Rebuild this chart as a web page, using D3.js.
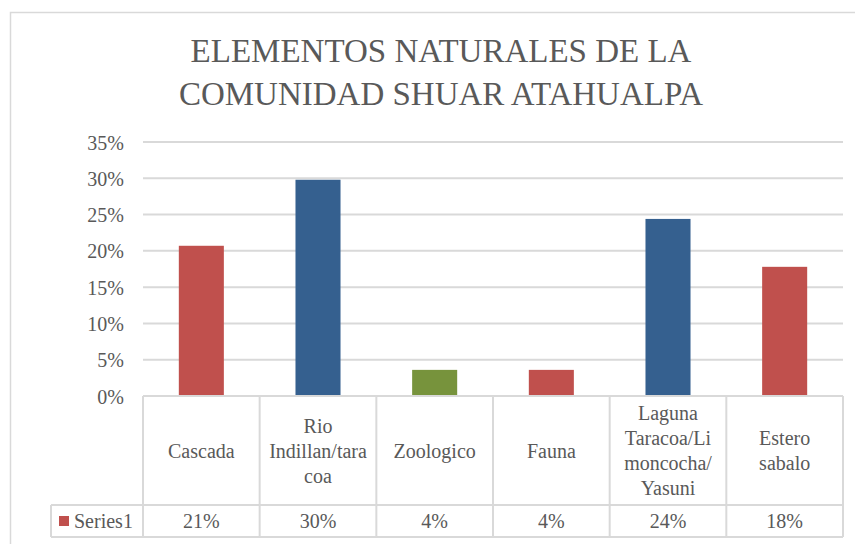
<!DOCTYPE html>
<html>
<head>
<meta charset="utf-8">
<script src="https://cdn.jsdelivr.net/npm/d3@7"></script>
<style>
  html, body { margin: 0; padding: 0; background: #fff; }
</style>
</head>
<body>
<div id="chart"></div>
<script>
"use strict";

// chart data
var titleLines = ["ELEMENTOS NATURALES DE LA", "COMUNIDAD SHUAR ATAHUALPA"];
var categories = ["Cascada", "Rio Indillan/taracoa", "Zoologico", "Fauna", "Laguna Taracoa/Limoncocha/Yasuni", "Estero sabalo"];
// how the labels wrap in the table cells
var categoryLines = [
	["Cascada"],
	["Rio", "Indillan/tara", "coa"],
	["Zoologico"],
	["Fauna"],
	["Laguna", "Taracoa/Li", "moncocha/", "Yasuni"],
	["Estero", "sabalo"]
];
var values = [0.207, 0.298, 0.036, 0.036, 0.244, 0.178];
var seriesName = "Series1";
var yTicks = [0, 0.05, 0.10, 0.15, 0.20, 0.25, 0.30, 0.35];

// colours per bar (point colours were set by hand in the original)
var barColors = ["#C0504D", "#35608F", "#77933C", "#C0504D", "#35608F", "#C0504D"];
var gridColor = "#d9d9d9";
var textColor = "#595959";
// the original uses Times; no serif face is available here so this falls back
var serif = "'Times New Roman', 'Liberation Serif', 'DejaVu Serif', serif";

var W = 855, H = 544;
var plot = { left: 143, right: 843, top: 142, bottom: 396 };
var table = { rowSplit: 505, bottom: 537, legendLeft: 51 };

var svg = d3.select("#chart")
	.append("svg")
	.attr("width", W)
	.attr("height", H)
	.style("font-family", serif);

// outer chart border (runs off the right and bottom edges)
svg.append("rect")
	.attr("x", 10.5).attr("y", 12.5)
	.attr("width", 870).attr("height", 560)
	.attr("fill", "none")
	.attr("stroke", gridColor)
	.attr("stroke-width", 1.5);

// title
svg.append("g").selectAll("text")
	.data(titleLines)
	.enter().append("text")
	.attr("x", 441)
	.attr("y", function (d, i) { return 62 + i * 43; })
	.attr("text-anchor", "middle")
	.style("font-size", "33px")
	.style("fill", textColor)
	.text(function (d) { return d; });

// scales
var y = d3.scaleLinear().domain([0, 0.35]).range([plot.bottom, plot.top]);
var cell = d3.scaleBand().domain(categories).range([plot.left, plot.right]).padding(0);
var x = d3.scaleBand().domain(categories).range([plot.left, plot.right])
	.paddingInner(0.614).paddingOuter(0.307);

// gridlines
svg.append("g").selectAll("line")
	.data(yTicks.slice(1))
	.enter().append("line")
	.attr("x1", plot.left).attr("x2", plot.right)
	.attr("y1", function (d) { return y(d); })
	.attr("y2", function (d) { return y(d); })
	.attr("stroke", gridColor)
	.attr("stroke-width", 2);

// y axis labels
var yAxis = d3.axisLeft(y)
	.tickValues(yTicks)
	.tickFormat(d3.format(".0%"))
	.tickSize(0)
	.tickPadding(0);
var yg = svg.append("g")
	.attr("transform", "translate(124,0)")
	.call(yAxis)
	.attr("font-family", null)
	.attr("font-size", null);
yg.select(".domain").remove();
yg.selectAll("text")
	.style("font-size", "20px")
	.style("fill", textColor)
	.attr("dy", "0.35em");

// bars
svg.append("g").selectAll("rect")
	.data(values)
	.enter().append("rect")
	.attr("x", function (d, i) { return x(categories[i]); })
	.attr("width", x.bandwidth())
	.attr("y", function (d) { return y(d); })
	.attr("height", function (d) { return y(0) - y(d); })
	.attr("fill", function (d, i) { return barColors[i]; });

// data table
var tg = svg.append("g")
	.attr("stroke", gridColor)
	.attr("stroke-width", 2);

tg.append("line")
	.attr("x1", plot.left).attr("x2", plot.right)
	.attr("y1", plot.bottom).attr("y2", plot.bottom);
tg.append("line")
	.attr("x1", table.legendLeft).attr("x2", plot.right)
	.attr("y1", table.rowSplit).attr("y2", table.rowSplit);
tg.append("line")
	.attr("x1", table.legendLeft).attr("x2", plot.right)
	.attr("y1", table.bottom).attr("y2", table.bottom);
tg.append("line")
	.attr("x1", table.legendLeft).attr("x2", table.legendLeft)
	.attr("y1", table.rowSplit).attr("y2", table.bottom);

var edges = categories.map(function (c) { return cell(c); }).concat([plot.right]);
tg.selectAll("line.v")
	.data(edges)
	.enter().append("line")
	.attr("class", "v")
	.attr("x1", function (d) { return d; })
	.attr("x2", function (d) { return d; })
	.attr("y1", plot.bottom)
	.attr("y2", table.bottom);

// category labels
var lineH = 25;
var midHead = (plot.bottom + table.rowSplit) / 2;
var labels = svg.append("g").selectAll("text")
	.data(categories)
	.enter().append("text")
	.attr("text-anchor", "middle")
	.style("font-size", "20px")
	.style("fill", textColor);

labels.each(function (c, i) {
	var lines = categoryLines[i];
	var t = d3.select(this);
	var cx = cell(c) + cell.bandwidth() / 2;
	var y0 = midHead - (lines.length - 1) * lineH / 2;
	lines.forEach(function (l, j) {
		t.append("tspan")
			.attr("x", cx)
			.attr("y", y0 + j * lineH)
			.attr("dy", "0.35em")
			.text(l);
	});
});

// value row
var midRow = (table.rowSplit + table.bottom) / 2;
svg.append("g").selectAll("text")
	.data(values)
	.enter().append("text")
	.attr("x", function (d, i) { return cell(categories[i]) + cell.bandwidth() / 2; })
	.attr("y", midRow)
	.attr("dy", "0.35em")
	.attr("text-anchor", "middle")
	.style("font-size", "20px")
	.style("fill", textColor)
	.text(function (d) { return d3.format(".0%")(d); });

// legend key in the table
svg.append("rect")
	.attr("x", 59).attr("y", 516)
	.attr("width", 10).attr("height", 10)
	.attr("fill", barColors[0]);
svg.append("text")
	.attr("x", 74)
	.attr("y", midRow)
	.attr("dy", "0.35em")
	.style("font-size", "20px")
	.style("fill", textColor)
	.text(seriesName);
</script>
</body>
</html>
